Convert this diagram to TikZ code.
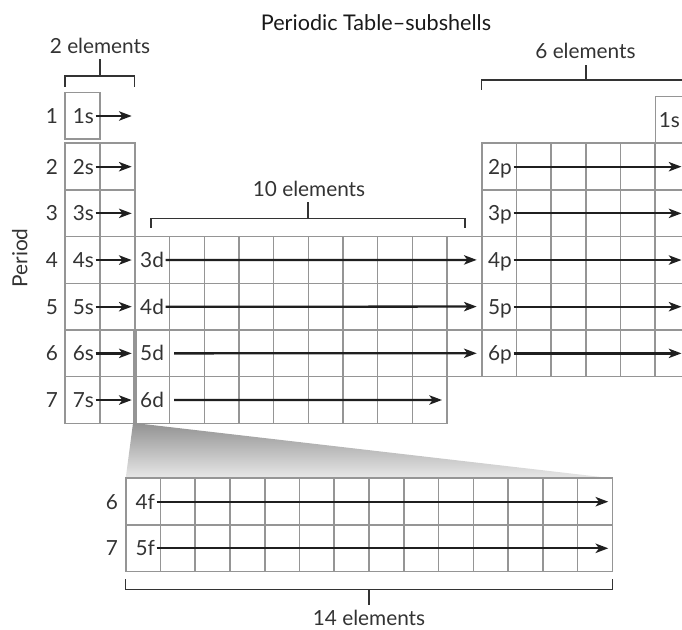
\documentclass[tikz,border=0pt]{standalone}
\usepackage{fontspec}
\setmainfont{Lato}
\usetikzlibrary{arrows.meta}
\definecolor{inkgray}{HTML}{333333}
\definecolor{cellgray}{HTML}{959595}
\tikzset{
  cell/.style={draw=cellgray, line width=1.2pt, fill=white},
  shell/.style={anchor=east, inner sep=1pt, text height=11pt, text depth=0pt, text=inkgray},
  period/.style={inner sep=0pt, text height=11pt, text depth=0pt, text=inkgray},
  fillarrow/.style={-{Stealth[length=9.5pt,width=7pt,inset=2.5pt]}, line width=1.7pt, draw=black!88},
  brace/.style={draw=black!80, line width=1.1pt},
  caption/.style={anchor=base, inner sep=0pt, text=inkgray},
}
\begin{document}
\begin{tikzpicture}[x=0.75pt,y=-0.75pt,font=\fontsize{15.6}{18}\selectfont]
\clip (0,0) rectangle (682,630);

\node[caption, text=black!90, font=\fontsize{16.2}{19}\selectfont] (title) at (376,30.7) {Periodic Table–subshells};

% s block
\draw[cell] (65,92.7) rectangle (100,139);
\foreach \row in {2,...,7}
  \foreach \col in {0,1}
    \draw[cell] ({65+35*\col},{143.3+46.67*(\row-2)}) rectangle ++(35,46.67);

% d block
\foreach \row in {4,5,6}
  \foreach \col in {0,...,9}
    \draw[cell] ({135+34.67*\col},{143.3+46.67*(\row-2)}) rectangle ++(34.67,46.67);
\foreach \col in {0,...,8}
  \draw[cell] ({135+34.67*\col},376.7) rectangle ++(34.67,46.67);

% p block
\draw[cell] (655.4,96.7) rectangle (690.1,143.3);
\foreach \row in {2,...,6}
  \foreach \col in {0,...,5}
    \draw[cell] ({481.7+34.7*\col},{143.3+46.67*(\row-2)}) rectangle ++(34.7,46.67);

% f block pulled out
\shade[top color=gray!85, bottom color=gray!18] (133,423.3) -- (137,423.3) -- (612.3,478.3) -- (125.7,478.3) -- cycle;
\draw[cellgray, line width=3pt] (135,330) -- (135,423.3);
\foreach \row in {0,1}
  \foreach \col in {0,...,13}
    \draw[cell] ({125.7+34.76*\col},{478.3+46.67*\row}) rectangle ++(34.76,46.67);

% periods
\node[period, rotate=90] (plabel) at (20,258) {Period};
\node[period] (p1) at (52,116) {1};
\foreach \row in {2,...,7}
  \node[period] (p\row) at (52,{166.7+46.67*(\row-2)}) {\row};
\node[period] (pf6) at (112,501.7) {6};
\node[period] (pf7) at (112,548.3) {7};

% s labels
\node[shell] (s1) at (95.5,116) {1s};
\coordinate (es1) at (131.7,116);
\draw[fillarrow] (s1) -- (es1);
\foreach \row in {2,...,7} {
  \node[shell] (s\row) at (95.5,{166.7+46.67*(\row-2)}) {\row s};
  \coordinate (es\row) at (131.7,{166.7+46.67*(\row-2)});
  \draw[fillarrow] (s\row) -- (es\row);
}

% d labels
\foreach \row/\nm in {4/3,5/4,6/5,7/6}
  \node[shell] (d\nm) at (165.5,{166.7+46.67*(\row-2)}) {\nm d};
\coordinate (ed3) at (476.7,259.9);
\coordinate (ed4) at (476.7,306.6);
\coordinate (ed5) at (476.7,353.3);
\coordinate (ed6) at (442,400);
\draw[fillarrow] (d3) -- (ed3);
\draw[fillarrow] (d4) -- (ed4);
\draw[fillarrow] ([xshift=6.5pt]d5.east) -- (ed5);
\draw[fillarrow] ([xshift=6.5pt]d6.east) -- (ed6);

% p labels
\node[shell] (hs) at (681.5,120) {1s};
\foreach \row in {2,...,6} {
  \node[shell] (pp\row) at (513.5,{166.7+46.67*(\row-2)}) {\row p};
  \coordinate (epp\row) at (681.5,{166.7+46.67*(\row-2)});
  \draw[fillarrow] (pp\row) -- (epp\row);
}

% f labels
\node[shell] (f4) at (156.5,501.7) {4f};
\node[shell] (f5) at (156.5,548.3) {5f};
\coordinate (ef4) at (608.3,501.7);
\coordinate (ef5) at (608.3,548.3);
\draw[fillarrow] (f4) -- (ef4);
\draw[fillarrow] (f5) -- (ef5);

% brackets
\draw[brace] (65,86.7) -- (65,76) -- (134.5,76) -- (134.5,86.7);
\draw[brace] (100,76) -- (100,59.3);
\node[caption] (c2) at (100,53.3) {2 elements};
\draw[brace] (481.7,90) -- (481.7,80) -- (690,80) -- (690,90);
\draw[brace] (586,80) -- (586,65);
\node[caption] (c6) at (585.5,58.3) {6 elements};
\draw[brace] (151,228) -- (151,218.3) -- (465,218.3) -- (465,228);
\draw[brace] (308,218.3) -- (308,201.7);
\node[caption] (c10) at (309,196.7) {10 elements};
\draw[brace] (125.7,579.3) -- (125.7,589.3) -- (612.3,589.3) -- (612.3,579.3);
\draw[brace] (369,589.3) -- (369,605);
\node[caption] (c14) at (369,625.5) {14 elements};
\end{tikzpicture}
\end{document}
